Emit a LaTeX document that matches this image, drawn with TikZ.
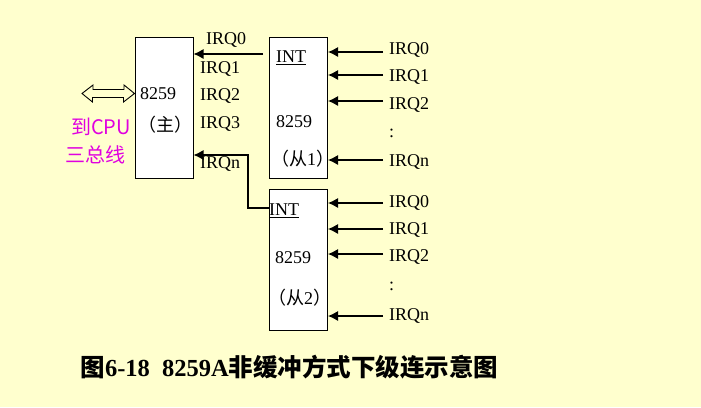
\documentclass[tikz,border=0pt]{standalone}
\usepackage{fontspec}
\setmainfont{Liberation Serif}
\newfontfamily\cjk{Noto Sans CJK SC}
\usepackage{tikz}
\usetikzlibrary{arrows.meta}
\definecolor{paper}{RGB}{255,255,206}
\definecolor{cpupink}{RGB}{224,0,224}

\begin{document}
\begin{tikzpicture}[x=1pt,y=-1pt,>={Latex[length=10pt,width=10pt]},
      chip/.style={draw,fill=white,line width=1pt,minimum width=58pt,minimum height=141pt,inner sep=0pt},
      lbl/.style={font=\fontsize{18}{20}\selectfont,inner sep=1pt,anchor=west},
      pink/.style={font=\fontsize{20}{22}\selectfont\cjk,text=cpupink,inner sep=1pt,anchor=west},
      wire/.style={->,line width=1.1pt},
      captxt/.style={font=\fontsize{24.5}{27}\selectfont\bfseries,anchor=west}]

      \fill[paper] (0,0) rectangle (701,407);
      \useasboundingbox (0,0) rectangle (701,407);

      % chips
      \node[chip] (m) at (164,107.5) {};
      \node[chip] (s1) at (298.5,107.5) {};
      \node[chip] (s2) at (298.5,260) {};

      % master texts
      \node[lbl] (m8259) at (139,94) {8259};
      \node[lbl] (mname) at (137,125) {\cjk （主）};
      \node[lbl] (mirq0) at (205,40) {IRQ0};
      \node[lbl] (mirq1) at (199,69) {IRQ1};
      \node[lbl] (mirq2) at (199,96) {IRQ2};
      \node[lbl] (mirq3) at (199,124) {IRQ3};
      \node[lbl] (mirqn) at (199,164) {IRQn};

      % slave 1 texts
      \node[lbl] (int1txt) at (275,58) {\underline{INT}};
      \node[lbl] (s18259) at (275,122) {8259};
      \node[lbl] (s1name) at (270,159) {{\cjk （从}1{\cjk ）}};
      \node[lbl] (a0) at (388,50) {IRQ0};
      \node[lbl] (a1) at (388,77) {IRQ1};
      \node[lbl] (a2) at (388,105) {IRQ2};
      \node[lbl] (adots) at (388,133) {:};
      \node[lbl] (an) at (388,162) {IRQn};

      % slave 2 texts
      \node[lbl] (int2txt) at (268,211) {\underline{INT}};
      \node[lbl] (s28259) at (274,258) {8259};
      \node[lbl] (s2name) at (267,298) {{\cjk （从}2{\cjk ）}};
      \node[lbl] (b0) at (388,203) {IRQ0};
      \node[lbl] (b1) at (388,230) {IRQ1};
      \node[lbl] (b2) at (388,257) {IRQ2};
      \node[lbl] (bdots) at (388,286) {:};
      \node[lbl] (bn) at (388,316) {IRQn};

      % cpu bus
      \node[pink] (cpu1) at (70,127) {到CPU};
      \node[pink] (cpu2) at (64,155) {三总线};
      \coordinate (bus) at (82,93.5);
      \draw[line width=0.9pt,fill=paper] (bus) -- ++(11,-8.5) -- ++(0,4.5) -- ++(31,0)
        -- ++(0,-4.5) -- (bus -| m.west) -- ++(-11,8.5) -- ++(0,-4.5) -- ++(-31,0)
        -- ++(0,4.5) -- cycle;

      % inputs of the slaves
      \foreach \n/\c/\y in {a0/s1/52,a1/s1/75,a2/s1/101,an/s1/160,b0/s2/203,b1/s2/229,b2/s2/254,bn/s2/316}
        \draw[wire] ([xshift=-5pt]\n.west |- 0,\y) -- (\c.east |- 0,\y);

      % cascade
      \coordinate (int1) at (263,54);
      \coordinate (int2) at (s2.west |- 0,208);
      \coordinate (bend) at (248,155);
      \draw[wire] (int1) -- (int1 -| m.east);
      \draw[wire] (int2) -| (bend) -- (bend -| m.east);

      % caption
      \node[captxt] (title) at (77,367) {{\cjk\bfseries 图}6-18\ \ 8259A{\cjk\bfseries 非缓冲方式下级连示意图}};
    \end{tikzpicture}
\end{document}
